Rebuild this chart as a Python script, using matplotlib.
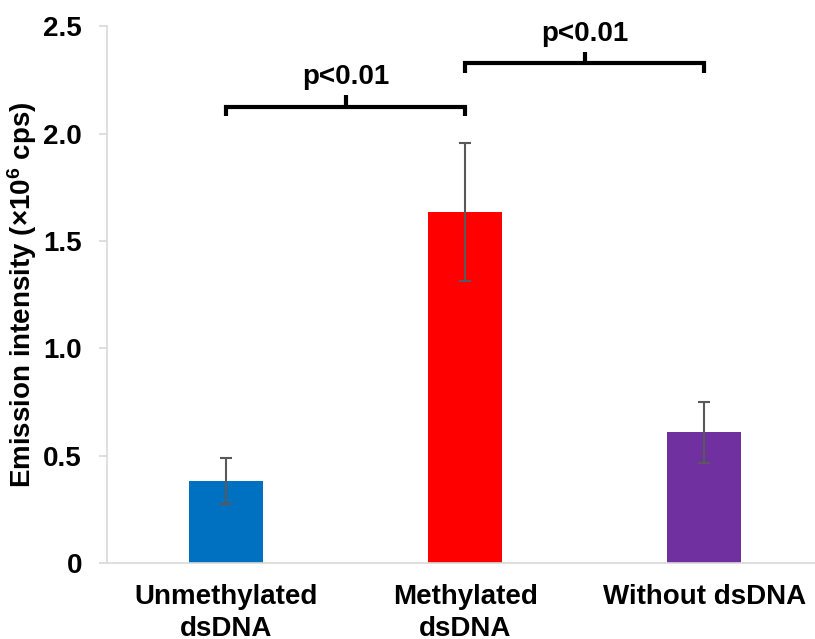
import matplotlib
matplotlib.use("Agg")
import matplotlib.pyplot as plt
import numpy as np

categories = ["Unmethylated\ndsDNA", "Methylated\ndsDNA", "Without dsDNA"]
values = [0.383, 1.637, 0.611]
errors = [0.108, 0.321, 0.142]
colors = ["#0070C0", "#FF0000", "#7030A0"]
yticks = [0, 0.5, 1.0, 1.5, 2.0, 2.5]
ytick_labels = ["0", "0.5", "1.0", "1.5", "2.0", "2.5"]
# brackets: (left index, right index, bar height, label)
brackets = [(0, 1, 2.126, "p<0.01"), (1, 2, 2.328, "p<0.01")]

plt.rcParams['font.family'] = ['Liberation Sans', 'DejaVu Sans']
plt.rcParams['font.weight'] = 'bold'
plt.rcParams['mathtext.fontset'] = 'custom'
plt.rcParams['mathtext.rm'] = 'Liberation Sans:bold'
plt.rcParams['mathtext.bf'] = 'Liberation Sans:bold'
plt.rcParams['mathtext.it'] = 'Liberation Sans:bold'

fig = plt.figure(figsize=(8.15, 6.39), dpi=100)
ax = fig.add_axes([107/815, 1-563.3/639, (823.5-107)/815, (563.3-26.3)/639])

x = np.arange(len(categories))
ax.bar(x, values, width=0.31, color=colors, zorder=2)
ax.errorbar(x, values, yerr=errors, fmt='none', ecolor='#595959',
            elinewidth=1.5, capsize=4, capthick=1.5, zorder=3)

ax.set_xlim(-0.5, 2.5)
ax.set_ylim(0, 2.5)
ax.set_yticks(yticks)
ax.set_yticklabels(ytick_labels)
ax.set_xticks(x)
ax.set_xticklabels(categories, linespacing=1.27)

for s in ['top', 'right']:
    ax.spines[s].set_visible(False)
for s in ['left', 'bottom']:
    ax.spines[s].set_color('#d9d9d9')
    ax.spines[s].set_linewidth(1.2)

ax.tick_params(axis='y', length=6, width=1.2, color='#d9d9d9', pad=12,
               labelsize=20, labelcolor='black')
ax.tick_params(axis='x', length=0, pad=15, labelsize=20, labelcolor='black')
for lab in ax.get_xticklabels() + ax.get_yticklabels():
    lab.set_fontweight('bold')

ax.set_ylabel(r'Emission intensity (×10$^{6}$ cps)', fontsize=20,
              fontweight='bold')
ax.yaxis.set_label_coords(-0.095, 0.5)

for (i, j, h, lab) in brackets:
    drop = 0.044
    ax.plot([x[i], x[i], x[j], x[j]], [h - drop, h, h, h - drop],
            color='black', lw=3, clip_on=False, solid_joinstyle='miter',
            solid_capstyle='butt', zorder=4)
    mid = (x[i] + x[j]) / 2
    ax.plot([mid, mid], [h, h + 0.054], color='black', lw=3,
            clip_on=False, solid_capstyle='butt', zorder=4)
    ax.text(mid, h + 0.105, lab, ha='center', va='baseline', fontsize=20,
            fontweight='bold', clip_on=False)

fig.savefig("out.png", dpi=100, facecolor='white')
